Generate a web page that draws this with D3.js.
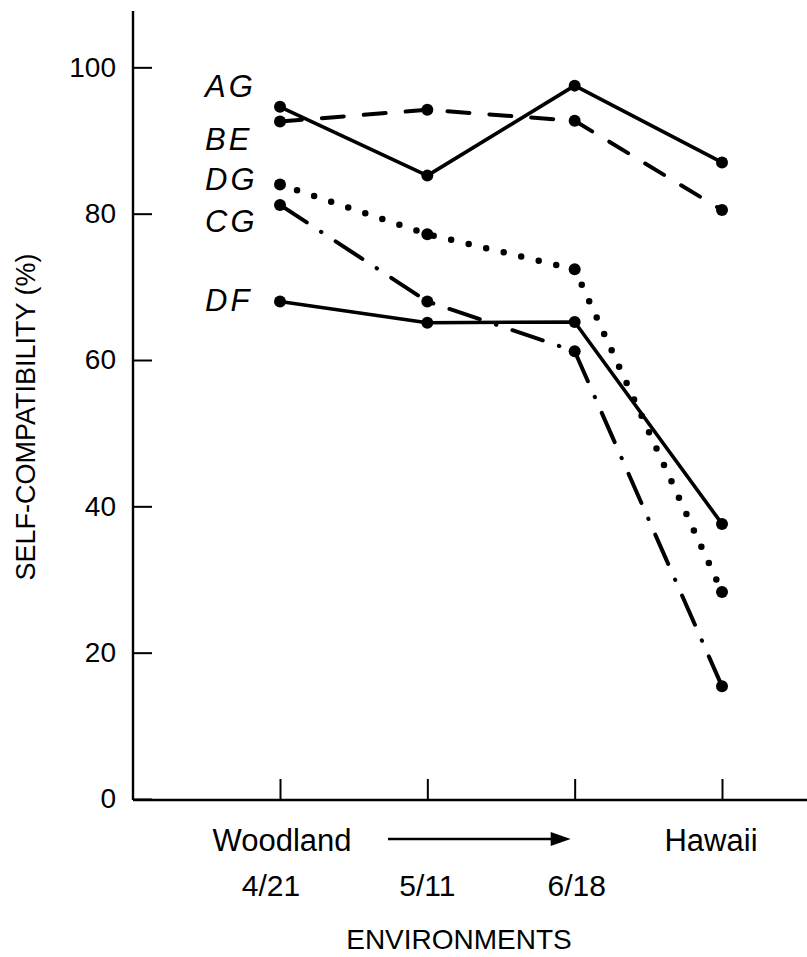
<!DOCTYPE html>
<html>
<head>
<meta charset="utf-8">
<script src="https://cdn.jsdelivr.net/npm/d3@7"></script>
<style>
  html, body { margin: 0; padding: 0; background: #fff; }
  svg { display: block; }
  text { font-family: "Liberation Sans", Arial, Helvetica, sans-serif; fill: #000; }
</style>
</head>
<body>
<script>
// ---- data ----
const categories = ["4/21", "5/11", "6/18", "Hawaii"];
const dateLabels = ["4/21", "5/11", "6/18", ""];
const envLabels = ["Woodland", "", "", "Hawaii"];
const seriesNames = ["AG", "BE", "DG", "CG", "DF"];
const AG = [94.6, 85.2, 97.5, 87.0];
const BE = [92.6, 94.2, 92.7, 80.5];
const DG = [84.0, 77.2, 72.4, 28.3];
const CG = [81.2, 68.0, 61.2, 15.4];
const DF = [68.0, 65.1, 65.2, 37.6];
const labelLevels = [96.0, 88.7, 83.3, 77.5, 66.7];
const yTicks = [0, 20, 40, 60, 80, 100];
const yTitle = "SELF-COMPATIBILITY (%)";
const xTitle = "ENVIRONMENTS";

const seriesValues = [AG, BE, DG, CG, DF];
const seriesStyles = [
  { dash: null, width: 3.6, cap: "butt" },
  { dash: "22 20", width: 4, cap: "round" },
  { dash: "0 18", width: 6.5, cap: "round" },
  { dash: "32 17 0.5 17", width: 4, cap: "round" },
  { dash: null, width: 3.6, cap: "butt" }
];

// ---- layout ----
const W = 807, H = 957;
const axisLeft = 133, axisRight = 807;
const svg = d3.select("body").append("svg").attr("width", W).attr("height", H);

const x = d3.scalePoint().domain(categories).range([280, 722]);
const y = d3.scaleLinear().domain([0, 107.7]).range([799, 11]);

// y axis
const yAxis = d3.axisLeft(y).tickValues(yTicks).tickSize(0).tickPadding(17);
const gy = svg.append("g").attr("transform", `translate(${axisLeft},0)`).call(yAxis);
gy.select(".domain").remove();
gy.selectAll(".tick text").attr("font-size", 28).attr("font-family", "Liberation Sans, Arial, sans-serif").attr("fill", "#000");
gy.selectAll(".tick").append("line").attr("x1", 0).attr("x2", 19).attr("stroke", "#000").attr("stroke-width", 2);
svg.append("line").attr("x1", axisLeft).attr("x2", axisLeft)
  .attr("y1", y(0) + 1).attr("y2", y(107.7)).attr("stroke", "#000").attr("stroke-width", 2.4);

// x axis
const xAxis = d3.axisBottom(x).tickSize(-21).tickSizeOuter(0).tickFormat("");
const gx = svg.append("g").attr("transform", `translate(0,${y(0) + 1})`).call(xAxis);
gx.select(".domain").attr("d", `M${axisLeft},0H${axisRight}`).attr("stroke", "#000").attr("stroke-width", 2.4);
gx.selectAll(".tick line").attr("stroke", "#000").attr("stroke-width", 2);

// label nudges (layout only)
const envNudge = [2, 0, 0, -11];
const dateNudge = [-9, 0, 2, 0];

// environment labels
svg.append("g").selectAll("text").data(categories).join("text")
  .attr("x", (d, i) => x(d) + envNudge[i]).attr("y", 851)
  .attr("text-anchor", "middle").attr("font-size", 31)
  .text((d, i) => envLabels[i]);
// date labels
svg.append("g").selectAll("text").data(categories).join("text")
  .attr("x", (d, i) => x(d) + dateNudge[i]).attr("y", 896)
  .attr("text-anchor", "middle").attr("font-size", 30)
  .text((d, i) => dateLabels[i]);

// arrow
const ax1 = x(categories[0]) + 108, ax2 = x(categories[2]) - 4, ay = 839;
svg.append("line").attr("x1", ax1).attr("x2", ax2 - 18).attr("y1", ay).attr("y2", ay)
  .attr("stroke", "#000").attr("stroke-width", 2.6);
svg.append("path").attr("d", `M${ax2},${ay} L${ax2 - 20},${ay - 7} L${ax2 - 20},${ay + 7} Z`).attr("fill", "#000");

// titles
svg.append("text").attr("x", 459).attr("y", 949).attr("text-anchor", "middle")
  .attr("font-size", 28).text(xTitle);
svg.append("text").attr("transform", "translate(35,417) rotate(-90)")
  .attr("text-anchor", "middle").attr("font-size", 27).text(yTitle);

// series
const line = d3.line().x((d, i) => x(categories[i])).y(d => y(d));
seriesValues.forEach((vals, si) => {
  const st = seriesStyles[si];
  svg.append("path").datum(vals).attr("d", line)
    .attr("fill", "none").attr("stroke", "#000")
    .attr("stroke-width", st.width)
    .attr("stroke-linecap", st.cap)
    .attr("stroke-linejoin", "round")
    .attr("stroke-dasharray", st.dash);
  svg.append("g").selectAll("circle").data(vals).join("circle")
    .attr("cx", (d, i) => x(categories[i])).attr("cy", d => y(d))
    .attr("r", 6).attr("fill", "#000");
});

// series labels
svg.append("g").selectAll("text").data(seriesNames).join("text")
  .attr("x", x(categories[0]) - 75).attr("y", (d, i) => y(labelLevels[i]))
  .attr("font-family", "'Open Sans', 'DejaVu Sans', sans-serif")
  .attr("font-style", "italic").attr("font-weight", 300)
  .attr("font-size", 31).attr("letter-spacing", 3)
  .text(d => d);
</script>
</body>
</html>
